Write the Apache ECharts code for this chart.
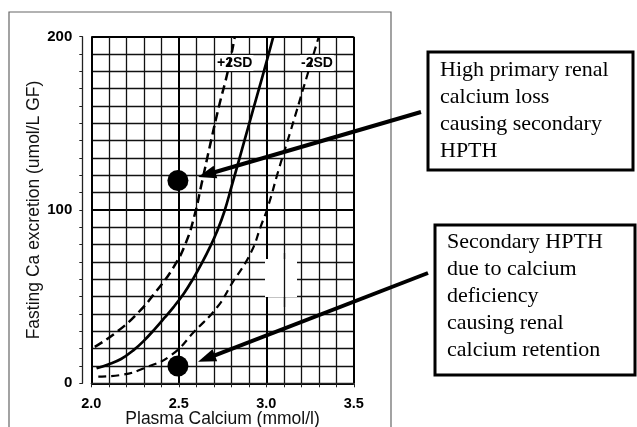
<!DOCTYPE html>
<html>
<head>
<meta charset="utf-8">
<script src="https://cdn.jsdelivr.net/npm/echarts@6/dist/echarts.min.js"></script>
<style>
html,body{margin:0;padding:0;background:#fff;}
#chart{width:637px;height:427px;}
</style>
</head>
<body>
<div id="chart"></div>
<script>
// ---- data ----
const meanCurve = [[2.03,8.7],[2.10,11],[2.17,14],[2.24,19],[2.30,24.5],[2.36,31],[2.42,38],[2.47,44],[2.53,52],[2.58,60],[2.63,69],[2.68,79],[2.72,88],[2.76,99],[2.80,113],[2.85,131],[2.90,149],[2.95,167],[3.00,185],[3.04,200]];
const plus2SD = [[2.02,21],[2.15,30],[2.27,41],[2.37,53],[2.47,67],[2.54,81],[2.59,97],[2.63,115],[2.68,138],[2.73,160],[2.78,180],[2.82,200]];
const minus2SD = [[2.04,3.8],[2.17,4.8],[2.32,9.5],[2.46,16.5],[2.59,30],[2.72,44],[2.80,57],[2.91,75],[2.97,91],[3.01,102],[3.07,123],[3.14,146],[3.22,173],[3.30,200]];
const patients = [[2.495,117],[2.495,10]];
const arrowTips = [[2.66,120.5],[2.658,14.3]];
const xTickLabels = ['2.0','2.5','3.0','3.5'];
const yTickLabels = ['0','100','200'];
const box1Lines = ['High primary renal','calcium loss','causing secondary','HPTH'];
const box2Lines = ['Secondary HPTH','due to calcium','deficiency','causing renal','calcium retention'];

const chart = echarts.init(document.getElementById('chart'));
const sans = '"Liberation Sans", Arial, sans-serif';
const serif = '"Liberation Serif", "Times New Roman", serif';

const option = {
  animation: false,
  backgroundColor: '#fff',
  grid: {left: 91.3, top: 36.7, right: 283.2, bottom: 43.7, show: false, containLabel: false, outerBoundsMode: 'none'},
  xAxis: {
    type: 'value', min: 2.0, max: 3.5, interval: 0.5, offset: 6,
    name: 'Plasma Calcium (mmol/l)', nameLocation: 'middle', nameGap: 21, nameMoveOverlap: false,
    nameTextStyle: {fontFamily: sans, fontSize: 17.5, color: '#111'},
    axisLine: {show: true, lineStyle: {color: '#222', width: 1.3}},
    axisTick: {show: true, length: 4, lineStyle: {color: '#222', width: 1}},
    minorTick: {show: true, splitNumber: 5, length: 4, lineStyle: {color: '#222', width: 1}},
    axisLabel: {margin: 7, fontFamily: sans, fontWeight: 'bold', fontSize: 14.5, color: '#000',
      formatter: v => { const s = v.toFixed(1); return xTickLabels.includes(s) ? s : ''; }},
    splitLine: {show: true, lineStyle: {color: '#000', width: 2}},
    minorSplitLine: {show: true, lineStyle: {color: '#111', width: 1.3}}
  },
  yAxis: {
    type: 'value', min: 0, max: 200, interval: 100, offset: 9,
    name: 'Fasting Ca excretion (umol/L GF)', nameLocation: 'middle', nameGap: 39, nameMoveOverlap: false,
    nameTextStyle: {fontFamily: sans, fontSize: 17.5, color: '#111'},
    axisLine: {show: true, lineStyle: {color: '#222', width: 1.3}},
    axisTick: {show: true, length: 3, lineStyle: {color: '#222', width: 1}},
    minorTick: {show: true, splitNumber: 10, length: 3, lineStyle: {color: '#222', width: 1}},
    axisLabel: {margin: 10, fontFamily: sans, fontWeight: 'bold', fontSize: 15, color: '#000',
      formatter: v => { const s = String(Math.round(v)); return yTickLabels.includes(s) ? s : ''; }},
    splitLine: {show: true, lineStyle: {color: '#000', width: 2}},
    minorSplitLine: {show: true, lineStyle: {color: '#111', width: 1.3}}
  },
  series: [
    {type: 'line', data: meanCurve, smooth: 0.4, showSymbol: false, z: 3,
     lineStyle: {color: '#000', width: 2.7}},
    {type: 'line', data: plus2SD, smooth: 0.5, showSymbol: false, z: 3,
     lineStyle: {color: '#000', width: 2.5, type: [9, 5]}},
    {type: 'line', data: minus2SD, smooth: 0.5, showSymbol: false, z: 3,
     lineStyle: {color: '#000', width: 2.2, type: [8, 5]}},
    {type: 'scatter', data: patients, symbol: 'circle', symbolSize: 21, z: 4,
     itemStyle: {color: '#000', opacity: 1},
     markLine: {
       silent: true, z: 5, animation: false,
       label: {show: false},
       lineStyle: {color: '#000', width: 4, type: 'solid', opacity: 1},
       data: [
         [{x: 421, y: 112, symbol: 'none'}, {coord: arrowTips[0], symbol: 'triangle', symbolSize: [13, 18]}],
         [{x: 428, y: 273, symbol: 'none'}, {coord: arrowTips[1], symbol: 'triangle', symbolSize: [13, 18]}]
       ]
     }}
  ],
  graphic: [
    {type: 'rect', z: -10, shape: {x: 9, y: 12, width: 382, height: 430},
     style: {fill: 'none', stroke: '#666', lineWidth: 1.2}},
    // scan damage patch in the grid
    {type: 'rect', z: 1, shape: {x: 265, y: 259, width: 32, height: 38}, style: {fill: '#fff'}},
    {type: 'line', z: 1, shape: {x1: 284.5, y1: 253, x2: 284.5, y2: 307}, style: {stroke: '#111', lineWidth: 1.3}},
    {type: 'text', z: 1, left: 216, top: 55,
     style: {text: '+2SD', fontFamily: sans, fontWeight: 'bold', fontSize: 14, fill: '#000',
             backgroundColor: '#fff', padding: [1, 1]}},
    {type: 'text', z: 1, left: 300, top: 55,
     style: {text: '-2SD', fontFamily: sans, fontWeight: 'bold', fontSize: 14, fill: '#000',
             backgroundColor: '#fff', padding: [1, 1]}},
    {type: 'rect', z: 10, shape: {x: 428, y: 52, width: 205, height: 118},
     style: {fill: '#fff', stroke: '#000', lineWidth: 3}},
    {type: 'text', z: 11, left: 440, top: 57,
     style: {text: box1Lines.join('\n'), fontFamily: serif, fontSize: 22, lineHeight: 27, fill: '#000'}},
    {type: 'rect', z: 10, shape: {x: 435, y: 225, width: 200, height: 150},
     style: {fill: '#fff', stroke: '#000', lineWidth: 3}},
    {type: 'text', z: 11, left: 447, top: 229,
     style: {text: box2Lines.join('\n'), fontFamily: serif, fontSize: 22, lineHeight: 27, fill: '#000'}}
  ]
};
chart.setOption(option);
</script>
</body>
</html>
